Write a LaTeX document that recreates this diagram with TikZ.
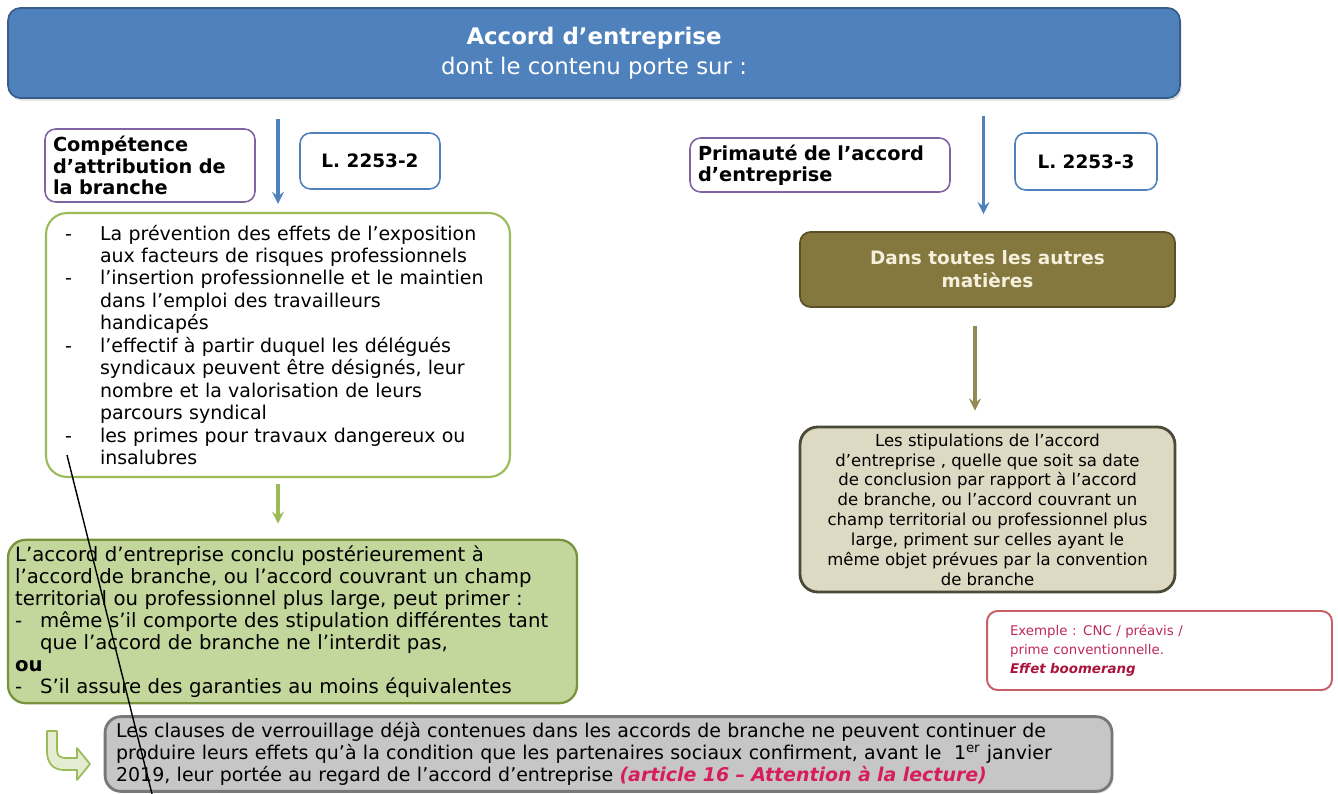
\documentclass[tikz,border=0pt]{standalone}
\usepackage{fontspec}
\setmainfont{DejaVu Sans}
\usetikzlibrary{shadows}

\definecolor{titleblue}{RGB}{79,129,189}
\definecolor{titleline}{RGB}{56,93,138}
\definecolor{lilac}{RGB}{128,100,162}
\definecolor{leaf}{RGB}{155,187,89}
\definecolor{leaffill}{RGB}{195,214,155}
\definecolor{leafline}{RGB}{119,147,60}
\definecolor{olive}{RGB}{133,120,62}
\definecolor{oliveline}{RGB}{90,80,40}
\definecolor{olivearrow}{RGB}{148,138,84}
\definecolor{sand}{RGB}{221,217,195}
\definecolor{sandline}{RGB}{74,74,56}
\definecolor{rose}{RGB}{200,95,100}
\definecolor{rosetext}{RGB}{190,40,95}
\definecolor{crimson}{RGB}{170,20,60}
\definecolor{stone}{RGB}{198,198,198}
\definecolor{stoneline}{RGB}{120,120,120}
\definecolor{alert}{RGB}{215,30,90}
\definecolor{cream}{RGB}{245,240,220}

\newcommand{\tiret}[1][0.7cm]{\makebox[#1][l]{-}}

\tikzset{
  law/.style={draw=lilac, fill=white, rounded corners=6pt, line width=0.9pt, align=left,
    font=\fontsize{11}{12.2}\selectfont\bfseries},
  ref/.style={draw=titleblue, fill=white, rounded corners=6pt, line width=0.9pt,
    font=\fontsize{10.5}{12}\selectfont\bfseries},
  down/.style={->, >=stealth, line width=2pt},
}

\begin{document}
\begin{tikzpicture}[x=0.02cm, y=-0.02cm]
\useasboundingbox (0,0) rectangle (1338,794);

\node[draw=titleline, fill=titleblue, rounded corners=7pt, line width=1pt, text=white,
  minimum width=23.44cm, minimum height=1.8cm, align=center,
  drop shadow={opacity=.25, shadow xshift=1pt, shadow yshift=-1.5pt},
  font=\fontsize{13}{17}\selectfont] (titre) at (594,53)
  {\textbf{Accord d’entreprise}\\dont le contenu porte sur :};

\node[law, text width=3.88cm, inner xsep=0.16cm, minimum height=1.46cm] (comp) at (150,165.5)
  {Compétence\\d’attribution de\\la branche};
\node[ref, minimum width=2.8cm, minimum height=1.12cm] (l2) at (370,161) {L. 2253-2};

\node[draw=leaf, fill=white, rounded corners=12pt, line width=1.2pt, align=left,
  text width=8.52cm, inner xsep=0.38cm, minimum height=5.28cm,
  font=\fontsize{10.8}{12.8}\selectfont] (liste) at (278,345)
  {\tiret La prévention des effets de l’exposition\\
   \hspace*{0.7cm}aux facteurs de risques professionnels\\
   \tiret l’insertion professionnelle et le maintien\\
   \hspace*{0.7cm}dans l’emploi des travailleurs\\
   \hspace*{0.7cm}handicapés\\
   \tiret l’effectif à partir duquel les délégués\\
   \hspace*{0.7cm}syndicaux peuvent être désignés, leur\\
   \hspace*{0.7cm}nombre et la valorisation de leurs\\
   \hspace*{0.7cm}parcours syndical\\
   \tiret les primes pour travaux dangereux ou\\
   \hspace*{0.7cm}insalubres};

\node[draw=leafline, fill=leaffill, rounded corners=10pt, line width=1.3pt, align=left,
  text width=11.1cm, inner xsep=0.14cm, minimum height=3.14cm,
  font=\fontsize{11.2}{12.5}\selectfont] (primer) at (292.5,621.5)
  {L’accord d’entreprise conclu postérieurement à\\
   l’accord de branche, ou l’accord couvrant un champ\\
   territorial ou professionnel plus large, peut primer :\\
   \tiret[0.5cm]même s’il comporte des stipulation différentes tant\\
   \hspace*{0.5cm}que l’accord de branche ne l’interdit pas,\\
   \textbf{ou}\\
   \tiret[0.5cm]S’il assure des garanties au moins équivalentes};

\node[law, text width=4.88cm, inner xsep=0.16cm, minimum height=1.08cm] (prim) at (820,165)
  {Primauté de l’accord\\d’entreprise};
\node[ref, minimum width=2.84cm, minimum height=1.14cm] (l3) at (1086,161.5) {L. 2253-3};

\node[draw=oliveline, fill=olive, rounded corners=6pt, line width=1pt, text=cream,
  minimum width=7.5cm, minimum height=1.5cm, align=center,
  font=\fontsize{10.5}{13}\selectfont\bfseries] (autres) at (987.5,269.5)
  {Dans toutes les autres\\matières};

\node[draw=sandline, fill=sand, rounded corners=10pt, line width=1.6pt, inner sep=1pt,
  minimum width=7.5cm, minimum height=3.3cm, align=center,
  font=\fontsize{9.4}{11.3}\selectfont] (stip) at (987.5,509.5)
  {Les stipulations de l’accord\\
   d’entreprise , quelle que soit sa date\\
   de conclusion par rapport à l’accord\\
   de branche, ou l’accord couvrant un\\
   champ territorial ou professionnel plus\\
   large, priment sur celles ayant le\\
   même objet prévues par la convention\\
   de branche};

\node[draw=rose, fill=white, rounded corners=6pt, line width=1.1pt, align=left, text=rosetext,
  text width=5.98cm, inner xsep=0.46cm, minimum height=1.58cm,
  font=\fontsize{7.6}{10.8}\selectfont] (ex) at (1159.5,650.5)
  {Exemple : CNC / préavis /\\
   prime conventionnelle.\\
   \textcolor{crimson}{\textbf{\textit{Effet boomerang}}}};

\node[draw=stoneline, fill=stone, rounded corners=9pt, line width=1.6pt, align=left,
  text width=19.7cm, inner xsep=0.22cm, minimum height=1.48cm,
  drop shadow={opacity=.2, shadow xshift=1pt, shadow yshift=-1pt},
  font=\fontsize{10.8}{12.5}\selectfont] (verrou) at (608.5,754)
  {Les clauses de verrouillage déjà contenues dans les accords de branche ne peuvent continuer de\\
   produire leurs effets qu’à la condition que les partenaires sociaux confirment, avant le \ 1\textsuperscript{er} janvier\\
   2019, leur portée au regard de l’accord d’entreprise \textcolor{alert}{\textbf{\textit{(article 16 – Attention à la lecture)}}}};

\draw[down, titleblue, shorten <=0.4cm, shorten >=0.16cm] (titre.south -| liste.north) -- (liste.north);
\draw[down, titleblue, shorten <=0.34cm, shorten >=0.34cm] ([xshift=-0.08cm]titre.south -| autres.north) -- ([xshift=-0.08cm]autres.north);
\draw[down, leaf, shorten <=0.12cm, shorten >=0.3cm] (liste.south) -- (liste.south |- primer.north);
\draw[down, olivearrow, shorten <=0.36cm, shorten >=0.3cm] ([xshift=-0.25cm]autres.south) -- ([xshift=-0.25cm]stip.north);

\draw[leaf, fill=leaffill!45, line width=1pt, line join=round]
  (47,731) -- (57,731) -- (57,750) .. controls (57,756) and (60,758) .. (66,758) -- (77,758)
  -- (77,748) -- (90,764) -- (77,780) -- (77,770) -- (64,770)
  .. controls (53,770) and (47,763) .. (47,751) -- cycle;

\coordinate (p) at (67,455);
\coordinate (q) at (152,794);
\draw[line width=0.8pt] (p) -- (q);
\end{tikzpicture}
\end{document}
